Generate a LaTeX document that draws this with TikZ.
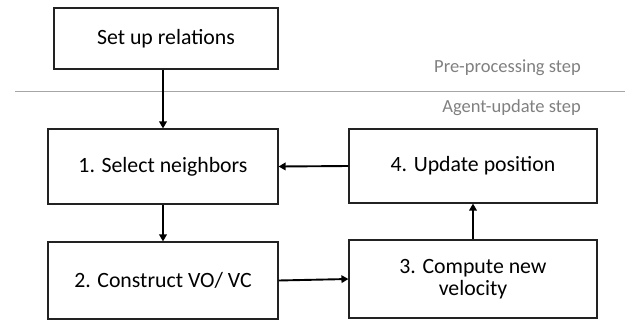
\documentclass[tikz,border=0pt]{standalone}
\usepackage{fontspec}
\setmainfont{Carlito}
\usetikzlibrary{arrows.meta}
\definecolor{boxline}{HTML}{222222}
\definecolor{labgray}{HTML}{808080}
\definecolor{sepgray}{HTML}{A6A6A6}
\begin{document}
\begin{tikzpicture}[x=1pt,y=-1pt,
  stepbox/.style={draw=boxline,line width=1.1pt,minimum width=#1,align=center,inner sep=0pt,font=\fontsize{21.8}{21.5}\selectfont},
  flow/.style={line width=1.9pt,-{Triangle[length=7pt,width=7.5pt]}},
  phase/.style={anchor=east,text=labgray,inner sep=0pt,font=\fontsize{18.5}{20}\selectfont}]
\useasboundingbox (0,0) rectangle (635,325);
\node[stepbox=224pt,minimum height=61pt] (top) at (166,38.5) {Set up relations};
\node[stepbox=230pt,minimum height=75pt] (b1) at (163,166.5) {1. Select neighbors};
\node[stepbox=248pt,minimum height=74pt] (b4) at (473,166) {4. Update position};
\node[stepbox=230pt,minimum height=77pt] (b2) at (163,280.5) {2. Construct VO/ VC};
\node[stepbox=248pt,minimum height=78pt] (b3) at (473,279) {3. Compute new\\velocity};
\coordinate (sepL) at (15,91);
\coordinate (sepR) at (625,91);
\draw[sepgray,line width=0.8pt] (sepL) -- (sepR);
\node[phase] (pre) at (581,68) {Pre-processing step};
\node[phase] (agt) at (581,108) {Agent-update step};
\draw[flow] (top.south -| b1.north) -- (b1.north);
\draw[flow] (b1.south) -- (b2.north);
\draw[flow] (b2.east) -- (b3.west);
\draw[flow] (b3.north) -- (b4.south);
\draw[flow] (b4.west) -- (b1.east);
\end{tikzpicture}
\end{document}
